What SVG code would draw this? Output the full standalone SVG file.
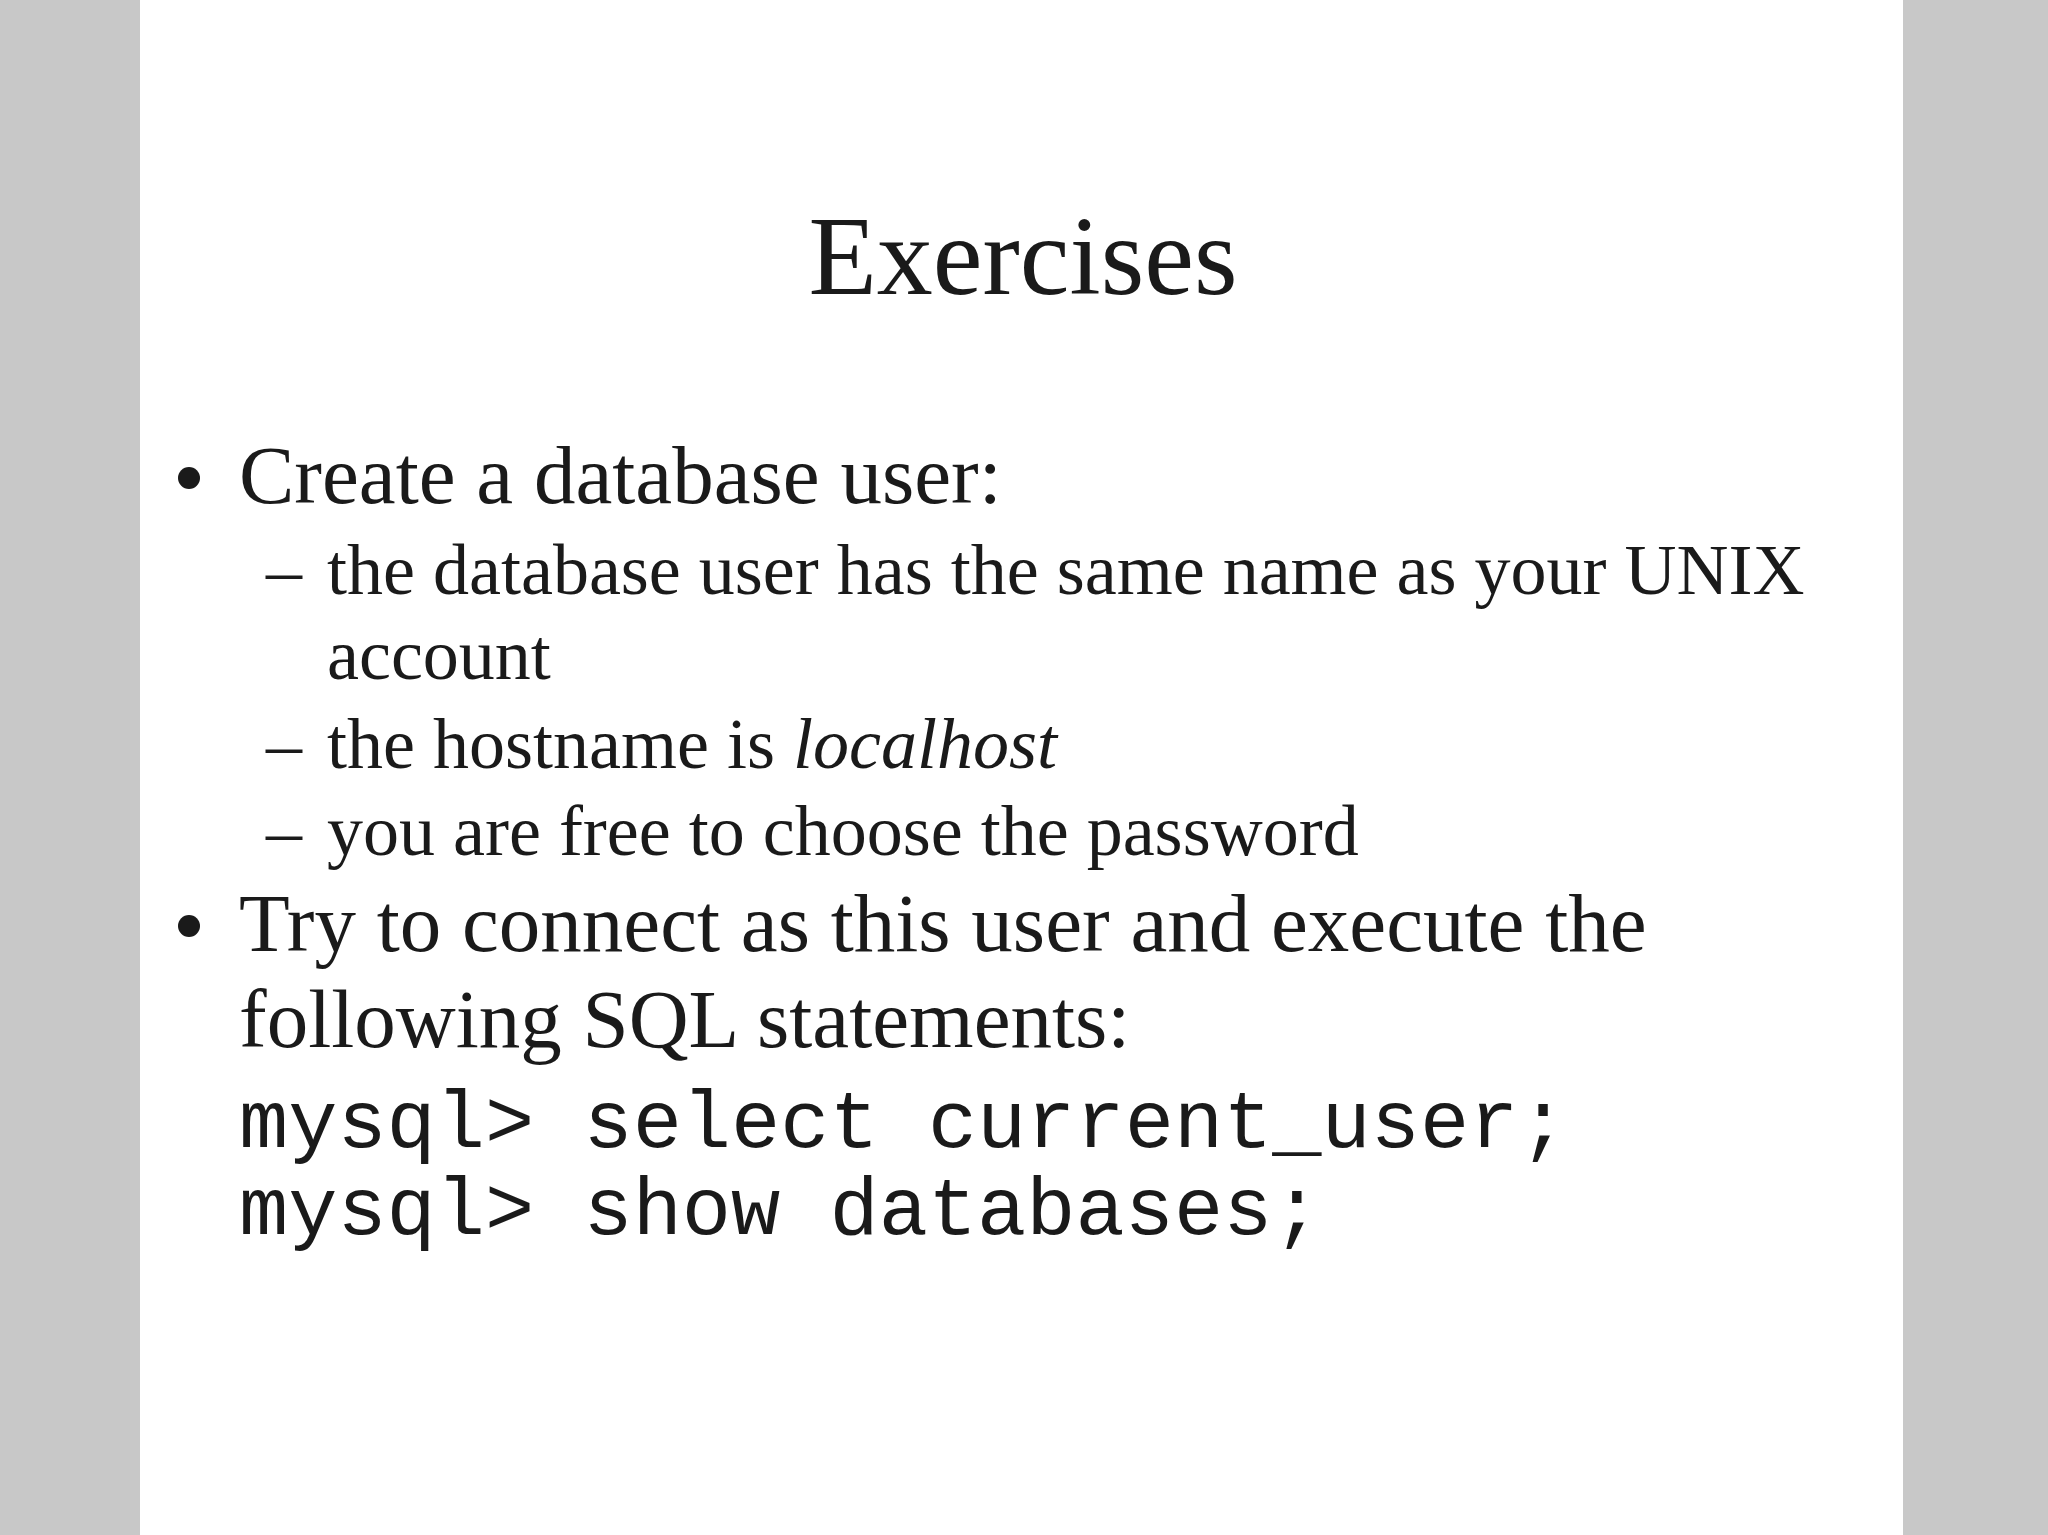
<svg xmlns="http://www.w3.org/2000/svg" width="2048" height="1535" viewBox="0 0 2048 1535">
<style>
.s{font-family:"Liberation Serif",serif;fill:#1a1a1a}
.m{font-family:"Liberation Mono",monospace;fill:#1a1a1a;font-size:82px}
.b{font-size:83px}.c{font-size:72px}
</style>
<rect width="2048" height="1535" fill="#c8c8c8"/>
<rect x="140" y="0" width="1763" height="1535" fill="#fff"/>
<g id="title"><text class="s" x="1023" y="294" font-size="112" text-anchor="middle">Exercises</text></g>
<g id="b1">
<circle cx="189" cy="478" r="11" fill="#1a1a1a"/>
<text class="s b" x="239" y="503">Create a database user:</text>
<text class="s c" x="266" y="594">–</text><text class="s c" x="327" y="594">the database user has the same name as your UNIX</text>
<text class="s c" x="327" y="679">account</text>
<text class="s c" x="266" y="768">–</text><text class="s c" x="327" y="768">the hostname is <tspan font-style="italic">localhost</tspan></text>
<text class="s c" x="266" y="855">–</text><text class="s c" x="327" y="855">you are free to choose the password</text>
</g>
<g id="b2">
<circle cx="189" cy="926" r="11" fill="#1a1a1a"/>
<text class="s b" x="239" y="951">Try to connect as this user and execute the</text>
<text class="s b" x="239" y="1047">following SQL statements:</text>
<text class="m" x="239" y="1147" xml:space="preserve">mysql&gt; select current_user;</text>
<text class="m" x="239" y="1234" xml:space="preserve">mysql&gt; show databases;</text>
</g>
</svg>
